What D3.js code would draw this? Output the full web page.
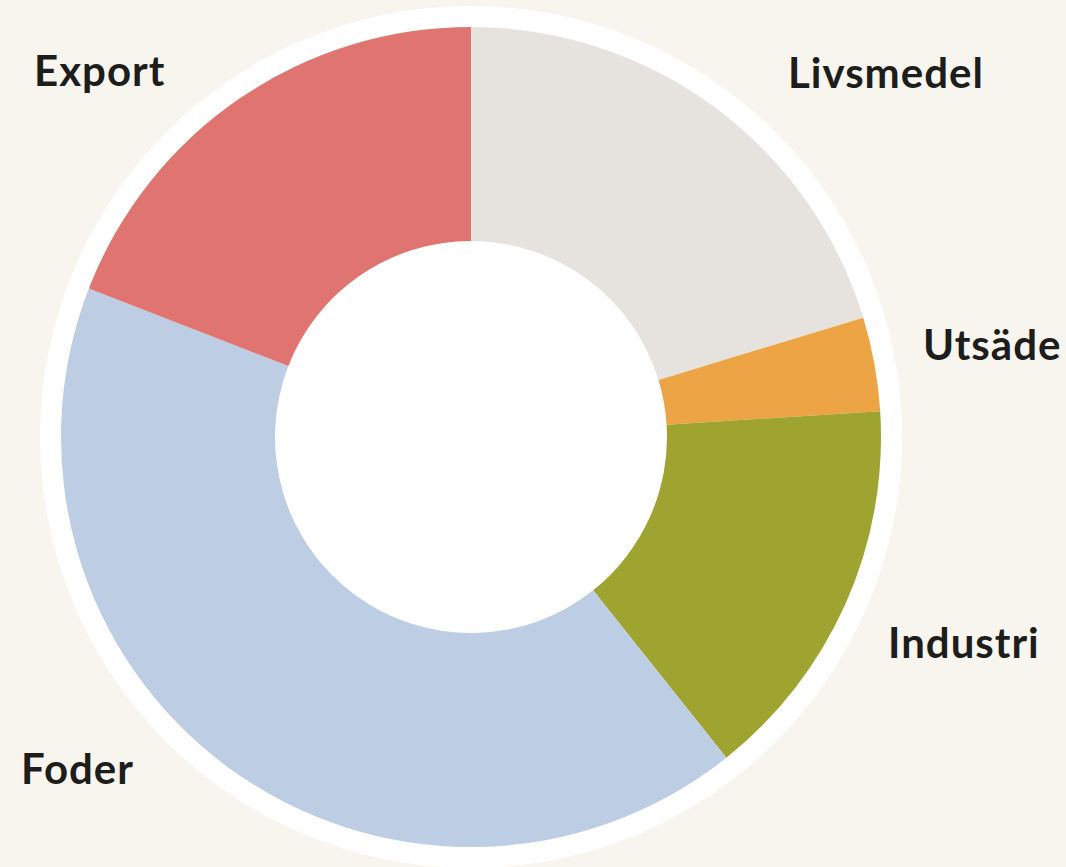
<!DOCTYPE html>
<html>
<head>
<meta charset="utf-8">
<script src="https://cdn.jsdelivr.net/npm/d3@7"></script>
<style>
  html, body { margin: 0; padding: 0; background: #f8f5ee; }
  svg { display: block; }
  .label { font-family: "Lato", "Liberation Sans", sans-serif; font-weight: 700; fill: #1d1d1b; letter-spacing: 1px; }
</style>
</head>
<body>
<svg id="chart" width="1066" height="867"></svg>
<script>
"use strict";

// Data (share of use, %)
const categories = ["Livsmedel", "Utsäde", "Industri", "Foder", "Export"];
const values = [20.3, 3.7, 15.3, 41.6, 19.1];
const colors = ["#e6e3df", "#eca444", "#9fa32f", "#bdcde3", "#e07470"];

// label anchor points (layout only)
const labelPos = [
  [788, 88],
  [923, 360],
  [888, 658],
  [21, 784],
  [34, 86]
];

var graph = {};
graph.svg = d3.select("#chart");
graph.width = +graph.svg.attr("width");
graph.height = +graph.svg.attr("height");
graph.cx = 471;
graph.cy = 437;
graph.rOuter = 410;
graph.rInner = 196;
graph.rRing = 431;

graph.svg.append("rect")
  .attr("width", graph.width)
  .attr("height", graph.height)
  .attr("fill", "#f8f5ee");

graph.main_g = graph.svg.append("g")
  .attr("transform", "translate(" + graph.cx + "," + graph.cy + ")");

// white ring behind donut (also fills the hole)
graph.main_g.append("circle")
  .attr("r", graph.rRing)
  .attr("fill", "#ffffff");

var pie = d3.pie()
  .sort(null)
  .value((d, i) => values[i]);

var arc = d3.arc()
  .innerRadius(graph.rInner)
  .outerRadius(graph.rOuter);

graph.main_g.selectAll("path")
  .data(pie(categories))
  .enter()
  .append("path")
  .attr("d", arc)
  .attr("fill", (d, i) => colors[i]);

graph.svg.append("g")
  .selectAll("text")
  .data(categories)
  .enter()
  .append("text")
  .attr("class", "label")
  .attr("x", (d, i) => labelPos[i][0])
  .attr("y", (d, i) => labelPos[i][1])
  .attr("font-size", 42)
  .text(d => d);
</script>
</body>
</html>
